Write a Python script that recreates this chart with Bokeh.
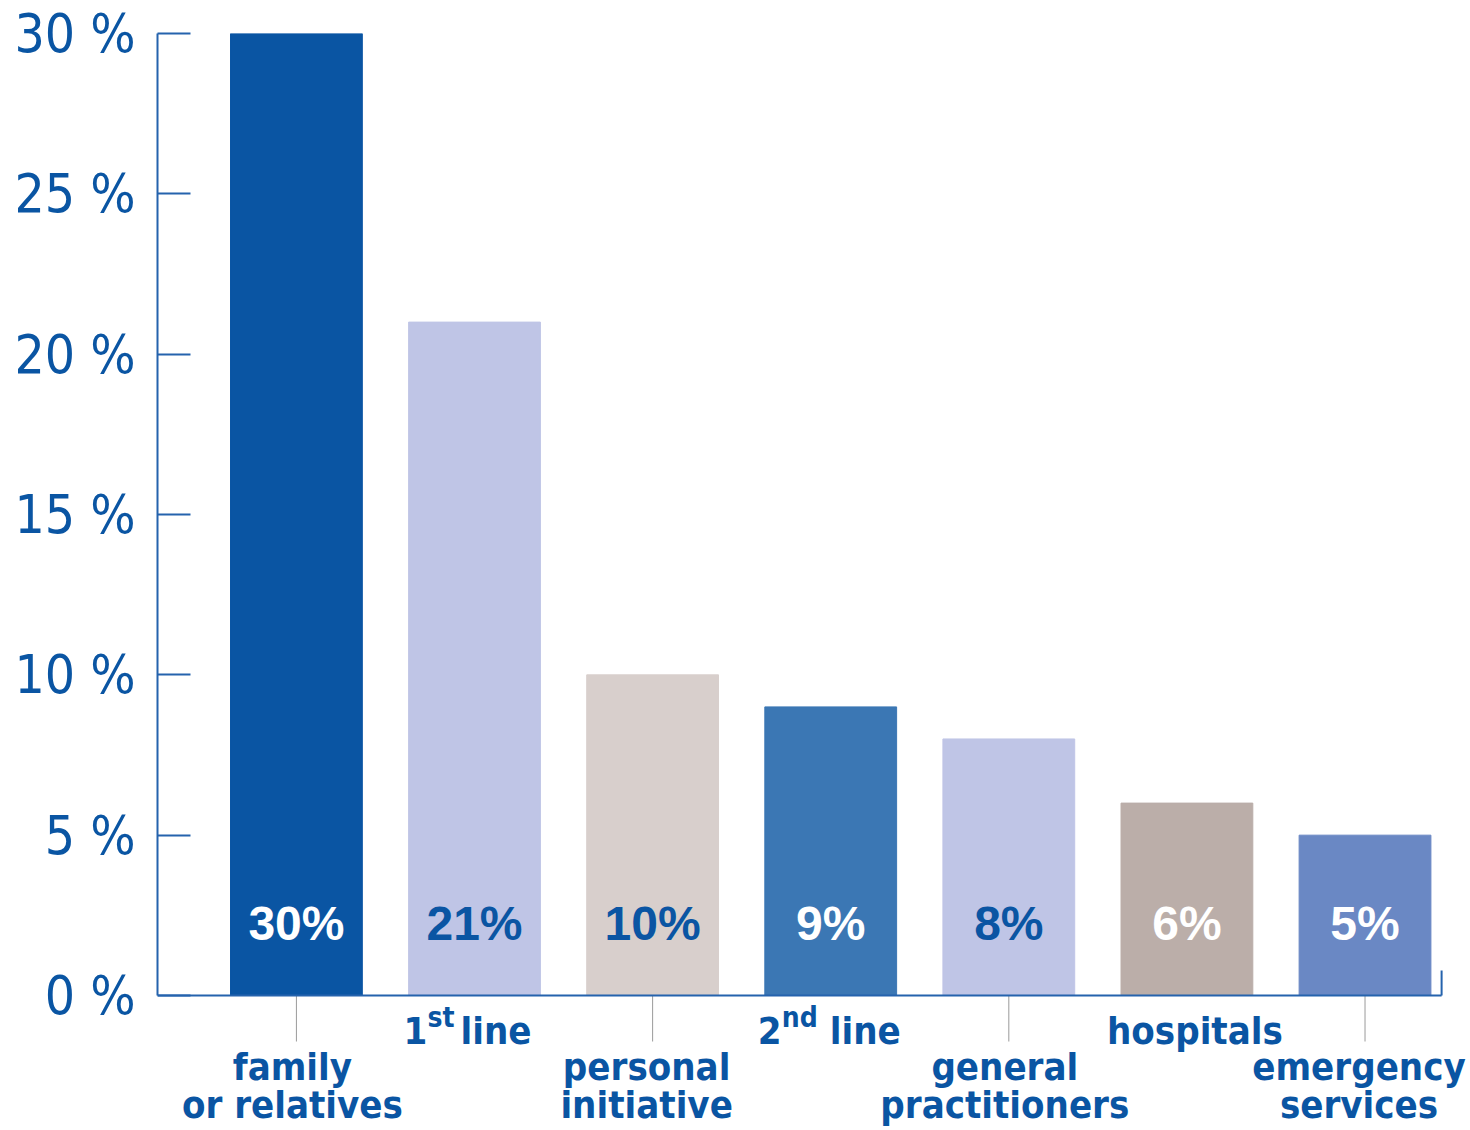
import re
import numpy as np
from bokeh.plotting import figure
from bokeh.models import (ColumnDataSource, Range1d, FixedTicker,
                          PrintfTickFormatter, LabelSet, Label)
from bokeh.core.properties import value
from bokeh.embed import file_html
from bokeh.resources import INLINE

# ---------------- data ----------------
categories = ["family or relatives", "1st line", "personal initiative", "2nd line",
              "general practitioners", "hospitals", "emergency services"]
shares = [30, 21, 10, 9, 8, 6, 5]
bar_colors = ["#0a55a3", "#bfc5e6", "#d8cfcc", "#3b77b4", "#bfc5e6", "#bbaea9", "#6a88c4"]
value_colors = ["#ffffff", "#0a55a3", "#0a55a3", "#ffffff", "#0a55a3", "#ffffff", "#ffffff"]
y_ticks = [0, 5, 10, 15, 20, 25, 30]

# ---------------- layout / style ----------------
W, H = 1468, 1128
LEFT, TOP = 157, 33
PX_PER_X = 178.1          # px per category step
PX_PER_Y = 962 / 30.0     # px per percentage point
X0 = -0.78                # x at left axis
X_AXIS_END = 6.43         # end of the baseline
x_end = X0 + (W - LEFT) / PX_PER_X
y_start = -(H - TOP - 962) / PX_PER_Y

BLUE = "#0a55a3"
AXIS_BLUE = "#2563ad"
CAT_FONT = "DejaVu Sans Condensed"
CAT_SIZE = "38px"
SUP_SIZE = "28px"

idx = np.arange(len(categories))

p = figure(width=W, height=H,
           x_range=Range1d(X0, x_end), y_range=Range1d(y_start, 30),
           output_backend="svg", toolbar_location=None,
           x_axis_location=None,
           min_border_left=LEFT, min_border_right=0,
           min_border_top=TOP, min_border_bottom=0)
p.grid.visible = False
p.outline_line_color = None
p.background_fill_color = "white"
p.border_fill_color = "white"

# grey leader ticks below the baseline for the lower labels
p.ray(x=idx[::2], y=0, length=46, length_units="screen", angle=-np.pi / 2,
      line_color="#9a9a9a", line_width=1)

src = ColumnDataSource(dict(x=idx, top=shares, color=bar_colors,
                            label=[f"{v}%" for v in shares],
                            tcolor=value_colors, zero=[0] * len(shares)))
p.vbar(x="x", top="top", width=0.74, bottom=0, color="color", source=src)

# baseline (x axis line) and the small stub at its right end
p.segment(x0=[X0], x1=[X_AXIS_END], y0=[0], y1=[0], line_color=AXIS_BLUE, line_width=2)
p.ray(x=[X_AXIS_END], y=[0], length=25, length_units="screen", angle=np.pi / 2,
      line_color=AXIS_BLUE, line_width=2)

# value labels inside bars
p.add_layout(LabelSet(x="x", y="zero", text="label", source=src, y_offset=72,
                      text_align="center", text_baseline="middle",
                      text_color="tcolor", text_font=value("Liberation Sans"),
                      text_font_style="bold", text_font_size="48px"))

# y axis
ya = p.yaxis[0]
ya.ticker = FixedTicker(ticks=y_ticks)
ya.formatter = PrintfTickFormatter(format="%d %%")
ya.bounds = (0, 30)
ya.major_tick_in = 33
ya.major_tick_out = 0
ya.minor_tick_line_color = None
ya.axis_line_color = AXIS_BLUE
ya.axis_line_width = 2
ya.major_tick_line_color = AXIS_BLUE
ya.major_tick_line_width = 2
ya.major_label_standoff = 22
ya.major_label_text_font = "DejaVu Sans Condensed"
ya.major_label_text_font_size = "53px"
ya.major_label_text_color = BLUE

# category labels
common = dict(text_font=CAT_FONT, text_font_style="bold", text_color=BLUE,
              text_baseline="alphabetic")
ordinal_offsets = {"1": (-71, -47, -14), "2": (-73, -49, -1)}
lower_dx = {0: -4, 2: -6, 4: -4, 6: -6}
for i, name in enumerate(categories):
    if i % 2 == 0:
        first, second = name.split(" ", 1)
        dx = lower_dx.get(i, 0)
        p.add_layout(Label(x=i, y=0, text=first, x_offset=dx, y_offset=-71,
                           text_align="center", text_font_size=CAT_SIZE, **common))
        p.add_layout(Label(x=i, y=0, text=second, x_offset=dx, y_offset=-109,
                           text_align="center", text_font_size=CAT_SIZE, **common))
    else:
        m = re.match(r"^(\d+)(st|nd|rd|th) (.*)$", name)
        if m:
            num, sup, rest = m.groups()
            o1, o2, o3 = ordinal_offsets.get(num, (-71, -47, -10))
            p.add_layout(Label(x=i, y=0, text=num, x_offset=o1, y_offset=-35,
                               text_align="left", text_font_size=CAT_SIZE, **common))
            p.add_layout(Label(x=i, y=0, text=sup, x_offset=o2, y_offset=-22,
                               text_align="left", text_font_size=SUP_SIZE, **common))
            p.add_layout(Label(x=i, y=0, text=rest, x_offset=o3, y_offset=-35,
                               text_align="left", text_font_size=CAT_SIZE, **common))
        else:
            p.add_layout(Label(x=i, y=0, text=name, x_offset=8, y_offset=-35,
                               text_align="center", text_font_size=CAT_SIZE, **common))

open("out.html", "w").write(file_html(p, INLINE))
